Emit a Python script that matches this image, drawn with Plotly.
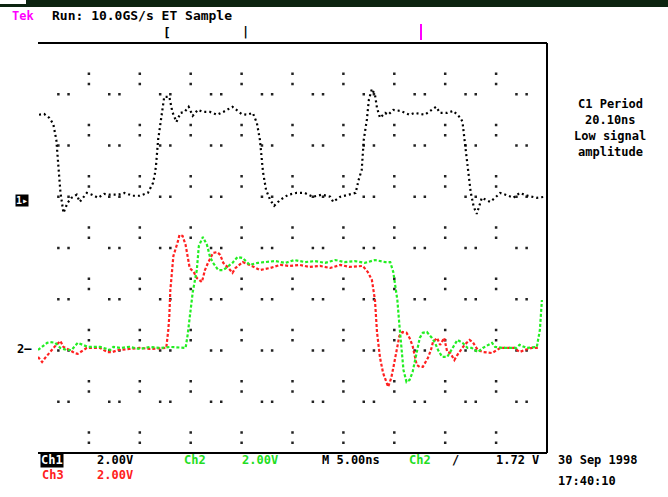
import plotly.graph_objects as go

# ---------------- data (time in ns, amplitude in volts) ----------------
ch1_t = [0.1, 0.6, 1.1, 1.5, 1.8, 2.0, 2.2, 2.5, 2.9, 3.3,
         3.8, 4.1, 4.8, 5.3, 5.9, 6.5, 7.1, 7.9, 8.5, 9.3,
         10.0, 10.8, 11.3, 11.5, 11.6, 11.8, 12.0, 12.2, 12.4, 12.9,
         13.2, 13.6, 14.0, 14.4, 14.8, 15.2, 15.7, 16.2, 16.9, 17.6,
         18.2, 19.1, 19.5, 20.0, 20.5, 21.1, 21.5, 21.8, 22.1, 22.4,
         22.8, 23.2, 23.8, 24.6, 25.4, 26.2, 27.0, 27.9, 28.7, 29.0,
         29.7, 30.6, 31.2, 31.5, 31.8, 32.0, 32.3, 32.5, 32.8, 33.1,
         33.3, 33.6, 34.1, 34.4, 34.9, 35.6, 36.5, 37.0, 38.0, 39.1,
         39.5, 40.2, 40.8, 41.5, 41.7, 41.9, 42.2, 42.5, 42.8, 43.1,
         43.6, 44.4, 44.9, 45.4, 46.2, 46.7, 47.3, 48.1, 49.0, 49.8]
ch1_v = [3.32, 3.35, 3.20, 2.96, 2.34, 1.37, 0.31, -0.51, -0.12, 0.08,
         0.20, -0.08, 0.27, 0.20, 0.08, 0.23, 0.20, 0.20, 0.27, 0.16,
         0.16, 0.27, 0.66, 1.05, 1.37, 2.34, 2.93, 3.59, 4.02, 4.02,
         3.43, 3.04, 3.39, 3.43, 3.63, 3.28, 3.51, 3.43, 3.43, 3.32,
         3.43, 3.63, 3.51, 3.35, 3.32, 3.39, 3.00, 2.34, 1.09, 0.39,
         0.00, -0.23, 0.00, 0.20, 0.27, 0.27, 0.12, 0.20, 0.12, -0.08,
         0.12, 0.20, 0.27, 0.78, 1.17, 2.34, 3.12, 3.90, 4.33, 4.10,
         3.59, 3.20, 3.39, 3.32, 3.51, 3.47, 3.32, 3.39, 3.32, 3.63,
         3.39, 3.39, 3.47, 3.20, 3.04, 2.34, 1.37, 0.31, -0.27, -0.55,
         0.08, -0.08, 0.08, 0.27, 0.16, 0.08, 0.27, 0.16, 0.08, 0.12]

ch2_t = [0.0, 0.4, 0.9, 1.2, 1.7, 2.2, 2.8, 3.3, 3.9, 4.4,
         4.9, 6.1, 7.1, 7.4, 8.1, 9.0, 10.0, 11.0, 12.0, 13.0,
         13.9, 14.5, 14.7, 14.9, 15.2, 15.6, 15.7, 15.8, 16.2, 16.6,
         16.9, 17.2, 17.7, 18.2, 18.6, 19.1, 19.6, 20.1, 20.8, 21.6,
         22.3, 23.3, 24.3, 25.2, 26.2, 27.2, 28.2, 29.2, 30.1, 31.1,
         32.1, 33.1, 34.1, 34.6, 34.9, 35.2, 35.3, 35.5, 35.7, 35.9,
         36.2, 36.5, 36.8, 37.0, 37.3, 37.5, 37.8, 38.2, 38.7, 39.0,
         39.3, 39.7, 40.2, 40.5, 40.9, 41.2, 41.7, 42.2, 42.6, 43.2,
         43.7, 44.2, 44.6, 44.9, 45.7, 46.4, 47.0, 47.3, 48.0, 49.0,
         49.3, 49.5]
ch2_v = [-0.08, 0.04, 0.20, 0.23, 0.20, 0.00, -0.08, -0.08, 0.20, 0.12,
         0.04, 0.04, -0.08, 0.04, 0.00, 0.04, -0.04, 0.04, 0.00, 0.04,
         0.00, 0.00, 0.51, 1.17, 2.18, 3.04, 3.74, 3.98, 4.33, 4.02,
         3.55, 3.32, 3.04, 3.04, 3.16, 3.32, 3.55, 3.51, 3.24, 3.32,
         3.35, 3.39, 3.32, 3.43, 3.35, 3.39, 3.32, 3.43, 3.35, 3.39,
         3.32, 3.43, 3.35, 3.35, 2.96, 2.07, 1.87, 0.90, 0.04, -0.86,
         -1.33, -1.25, -0.94, -0.59, 0.00, 0.39, 0.59, 0.62, 0.39, 0.20,
         -0.08, -0.35, -0.35, -0.16, 0.12, 0.31, 0.20, 0.00, 0.00, -0.16,
         0.00, 0.12, 0.20, 0.04, 0.00, 0.00, 0.00, 0.12, 0.00, 0.04,
         0.70, 1.87]

ch3_t = [0.0, 0.4, 0.7, 1.1, 1.7, 2.2, 2.5, 3.1, 3.6, 3.9,
         4.8, 6.1, 6.8, 7.3, 7.9, 9.0, 10.0, 11.0, 12.0, 12.6,
         12.8, 12.9, 13.0, 13.3, 13.7, 13.9, 14.2, 14.5, 14.9, 15.3,
         15.6, 16.1, 16.4, 16.7, 17.2, 17.6, 17.9, 18.2, 18.7, 19.1,
         19.4, 20.1, 20.8, 21.8, 22.8, 23.8, 24.7, 25.7, 26.7, 27.7,
         28.7, 29.7, 30.6, 31.4, 31.9, 32.4, 32.8, 33.1, 33.3, 33.6,
         33.9, 34.4, 34.7, 34.9, 35.2, 35.5, 35.8, 36.2, 36.5, 36.8,
         37.2, 37.5, 37.8, 38.3, 38.6, 38.8, 39.2, 39.5, 39.9, 40.2,
         40.5, 40.9, 41.2, 41.9, 42.4, 42.7, 43.2, 43.7, 44.6, 45.4,
         46.2, 46.8, 47.3, 47.8, 48.5, 49.1]
ch3_v = [-0.35, -0.55, -0.39, -0.20, 0.08, 0.27, 0.04, -0.08, -0.20, -0.23,
         0.00, 0.00, -0.16, -0.16, -0.08, -0.04, 0.00, -0.04, 0.00, 0.00,
         0.70, 1.25, 2.26, 3.59, 4.10, 4.41, 4.37, 4.02, 3.12, 2.96,
         2.73, 2.57, 3.04, 3.32, 3.71, 3.74, 3.63, 3.32, 3.12, 2.93,
         3.12, 3.35, 3.24, 3.04, 3.12, 3.24, 3.20, 3.24, 3.16, 3.20,
         3.12, 3.24, 3.16, 3.20, 3.20, 2.96, 2.65, 1.87, 0.62, -0.39,
         -0.98, -1.52, -1.17, -0.78, -0.16, 0.47, 0.62, 0.59, 0.39, 0.08,
         -0.66, -0.74, -0.74, -0.39, -0.08, 0.23, 0.39, 0.12, 0.39, -0.16,
         -0.20, -0.47, -0.27, 0.12, 0.31, 0.23, -0.08, -0.16, -0.20, 0.00,
         0.00, 0.00, -0.16, -0.08, 0.00, 0.00]

volts_per_div = 2.0
ns_per_div = 5.0
ch1_ground_div = 0.94
ch23_ground_div = -1.95

top_text = "Run: 10.0GS/s ET Sample"
right_text = ["C1 Period", "20.10ns", "Low signal", "amplitude"]
date_text = ["30 Sep 1998", "17:40:10"]

# ---------------- figure geometry ----------------
W, H = 668, 497
L, R, T, B = 38, 121, 43, 44
PW, PH = W - L - R, H - T - B


def px(x):
    return (x - L) / PW


def py(y):
    return (H - B - y) / PH


def to_div(vals, ground):
    return [ground + v / volts_per_div for v in vals]


fig = go.Figure()

# graticule dots (sparse, oscilloscope style)
gx, gy = [], []
for k in range(1, 10):
    for d in range(-4, 4):
        for f in (0.2, 0.4):
            gx.append(k * ns_per_div)
            gy.append(d + f)
for d in range(-3, 4):
    for k in range(0, 10):
        for f in (0.4, 0.6):
            gx.append((k + f) * ns_per_div)
            gy.append(d)
fig.add_trace(go.Scatter(x=gx, y=gy, mode="markers",
                         marker=dict(symbol="square", size=2.5, color="#222222", line_width=0),
                         hoverinfo="skip", showlegend=False))

fig.add_trace(go.Scatter(x=ch1_t, y=to_div(ch1_v, ch1_ground_div), mode="lines",
                         line=dict(color="black", width=2.2, dash="2px,3px"),
                         showlegend=False))
fig.add_trace(go.Scatter(x=ch3_t, y=to_div(ch3_v, ch23_ground_div), mode="lines",
                         line=dict(color="#ff2020", width=2.2, dash="3px,2px"),
                         showlegend=False))
fig.add_trace(go.Scatter(x=ch2_t, y=to_div(ch2_v, ch23_ground_div), mode="lines",
                         line=dict(color="#22ee22", width=2.2, dash="3px,2px"),
                         showlegend=False))

shapes = [
    # dark band at top of the screenshot
    dict(type="rect", xref="paper", yref="paper", x0=px(0), x1=px(W), y0=py(7), y1=py(0),
         fillcolor="#0c2410", line_width=0, layer="below"),
    dict(type="rect", xref="paper", yref="paper", x0=px(0), x1=px(26), y0=py(4), y1=py(0),
         fillcolor="white", line_width=0, layer="below"),
    # frame
    dict(type="line", xref="paper", yref="paper", x0=0, x1=1, y0=1, y1=1,
         line=dict(color="black", width=2)),
    dict(type="line", xref="paper", yref="paper", x0=1, x1=1, y0=0, y1=1,
         line=dict(color="black", width=2)),
    dict(type="line", xref="paper", yref="paper", x0=0, x1=1, y0=0, y1=0,
         line=dict(color="black", width=2)),
    # trigger position marker
    dict(type="line", xref="paper", yref="paper", x0=px(421), x1=px(421), y0=py(40), y1=py(24),
         line=dict(color="#ff00ff", width=2)),
]

mono = "DejaVu Sans Mono"
ann = []


def text(x, y, s, color="black", size=12, xanchor="left", bg=None, bold=True, align="left"):
    d = dict(xref="paper", yref="paper", x=px(x), y=py(y), text=("<b>%s</b>" % s) if bold else s,
             showarrow=False, xanchor=xanchor, yanchor="middle", align=align,
             font=dict(family=mono, size=size, color=color))
    if bg:
        d["bgcolor"] = bg
        d["borderpad"] = 0
    ann.append(d)


text(10, 16, "Tek", color="#ff00ff", size=12)
text(50, 16, top_text, size=13)
text(161, 33, "[", size=13)
text(240, 32, "|", size=12)

for i, line in enumerate(right_text):
    text(610, 104 + i * 16, line, size=12, xanchor="center")

text(15, 200, "1▸", color="white", size=10, bg="black")
text(15, 349, "2–", size=12)

text(40, 460, "Ch1", color="white", size=12, bg="black")
text(95, 460, "2.00V", size=12)
text(182, 460, "Ch2", color="#22dd22", size=12)
text(240, 460, "2.00V", color="#22dd22", size=12)
text(320, 460, "M 5.00ns", size=12)
text(407, 460, "Ch2", color="#22dd22", size=12)
text(450, 460, "/", size=12)
text(494, 460, "1.72 V", size=12)
text(40, 475, "Ch3", color="#ff2020", size=12)
text(95, 475, "2.00V", color="#ff2020", size=12)
text(556, 460, date_text[0], size=12)
text(556, 481, date_text[1], size=12)

fig.update_layout(
    width=W, height=H,
    margin=dict(l=L, r=R, t=T, b=B, pad=0),
    paper_bgcolor="white", plot_bgcolor="white",
    xaxis=dict(range=[0, 10 * ns_per_div], showgrid=False, zeroline=False,
               showticklabels=False, ticks="", showline=False),
    yaxis=dict(range=[-4, 4], showgrid=False, zeroline=False,
               showticklabels=False, ticks="", showline=False),
    shapes=shapes, annotations=ann,
)

fig.write_html("out.html", config={"displayModeBar": False},
               post_script="document.body.style.margin='0';document.body.style.overflow='hidden';")
